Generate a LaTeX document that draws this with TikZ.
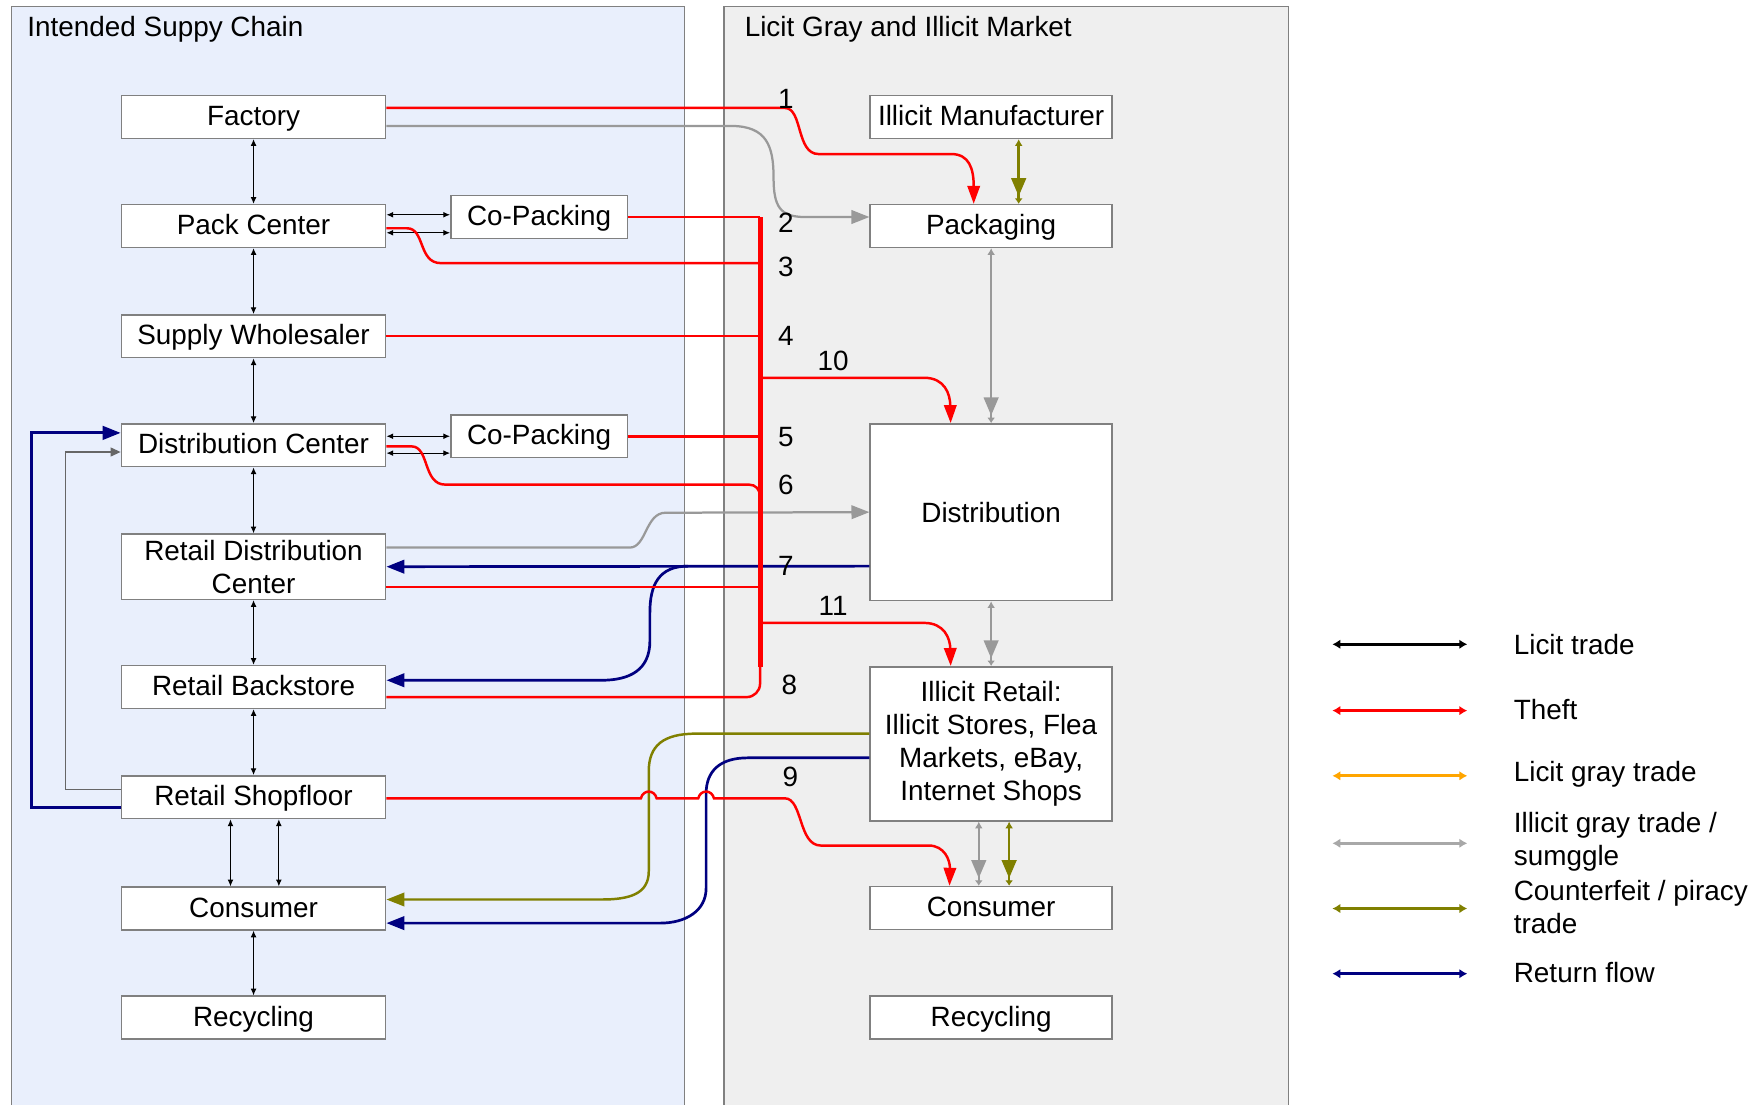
\documentclass[tikz,border=0pt]{standalone}
\usepackage{fontspec}
\setmainfont{Liberation Sans}
\usetikzlibrary{arrows.meta,calc}
\definecolor{panelblue}{HTML}{E9EFFC}
\definecolor{panelgray}{HTML}{EFEFEF}
\definecolor{frame}{HTML}{808080}
\definecolor{theftred}{HTML}{FF0000}
\definecolor{retnavy}{HTML}{000080}
\definecolor{fakeolive}{HTML}{808000}
\definecolor{smuggray}{HTML}{999999}
\definecolor{grayorange}{HTML}{FFA500}
\begin{document}
\begin{tikzpicture}[x=0.5pt,y=-0.5pt,
  font=\fontsize{12.4}{14.6}\selectfont,
  box/.style={draw=frame, line width=0.7pt, fill=white, inner sep=0pt, align=center},
  onebox/.style={box, text height=9pt, text depth=1.4pt},
  lbox/.style={onebox, minimum width=117.5pt, minimum height=19pt},
  rbox/.style={onebox, minimum width=107.5pt, minimum height=19pt},
  cbox/.style={onebox, minimum width=78.5pt, minimum height=19pt},
  tallbox/.style={box, minimum width=107.5pt},
  panel/.style={draw=frame, line width=0.6pt},
  licit/.style={draw=black, line width=0.45pt,
    {Latex[length=3pt,width=2.6pt]}-{Latex[length=3pt,width=2.6pt]}},
  theft/.style={draw=theftred, line width=1.1pt},
  bus/.style={draw=theftred, line width=2.2pt},
  smug/.style={draw=smuggray, line width=1pt},
  ret/.style={draw=retnavy, line width=1.2pt},
  fake/.style={draw=fakeolive, line width=1.1pt},
  bigtip/.style={-{Triangle[length=8pt,width=6pt]}},
  redtip/.style={-{Triangle[length=8pt,width=5.5pt]}},
  twotip/.style={{Latex[length=3pt,width=3.5pt]}-{Triangle[length=8pt,width=6.5pt,sep=1pt] Latex[length=2.4pt,width=3.5pt]}},
  num/.style={inner sep=0pt},
  legline/.style={line width=1.4pt, {Latex[length=3.5pt,width=4.2pt]}-{Latex[length=3.5pt,width=4.2pt]}},
  legtext/.style={anchor=west, inner sep=0pt, align=left}
]
\useasboundingbox (0,0) rectangle (1568,982);

% two market panels
\path[panel, fill=panelblue] (10,1000) -- (10,6) -- (609,6) -- (609,1000);
\path[panel, fill=panelgray] (644,1000) -- (644,6) -- (1146,6) -- (1146,1000);
\node[anchor=west, inner sep=0pt] (t1) at (24,26) {Intended Suppy Chain};
\node[anchor=west, inner sep=0pt] (t2) at (662,26) {Licit Gray and Illicit Market};

% intended supply chain
\node[lbox] (fac)  at (225.5,104) {Factory};
\node[lbox] (pack) at (225.5,201) {Pack Center};
\node[lbox] (sw)   at (225.5,299) {Supply Wholesaler};
\node[lbox] (dc)   at (225.5,396) {Distribution Center};
\node[box, minimum width=117.5pt, minimum height=29pt] (rdc) at (225.5,504) {Retail Distribution\\Center};
\node[lbox] (rb)   at (225.5,611) {Retail Backstore};
\node[lbox] (rs)   at (225.5,709) {Retail Shopfloor};
\node[lbox] (con)  at (225.5,808) {Consumer};
\node[lbox] (rec)  at (225.5,905) {Recycling};
\node[cbox] (cp1)  at (479.5,193) {Co-Packing};
\node[cbox] (cp2)  at (479.5,388) {Co-Packing};

% licit gray and illicit market
\node[rbox] (im)   at (881.5,104) {Illicit Manufacturer};
\node[rbox] (pkg)  at (881.5,201) {Packaging};
\node[tallbox, minimum height=78.5pt] (dist) at (881.5,455.5) {Distribution};
\node[tallbox, minimum height=68.5pt] (ir) at (881.5,661.5) {Illicit Retail:\\Illicit Stores, Flea\\Markets, eBay,\\Internet Shops};
\node[rbox] (icon) at (881.5,807.5) {Consumer};
\node[rbox] (irec) at (881.5,905) {Recycling};

% licit trade
\draw[licit] (fac.south) -- (pack.north);
\draw[licit] (pack.south) -- (sw.north);
\draw[licit] (sw.south) -- (dc.north);
\draw[licit] (dc.south) -- (rdc.north);
\draw[licit] (rdc.south) -- (rb.north);
\draw[licit] (rb.south) -- (rs.north);
\draw[licit] ($(rs.south)+(-20.5,0)$) -- ($(con.north)+(-20.5,0)$);
\draw[licit] ($(rs.south)+(22.5,0)$) -- ($(con.north)+(22.5,0)$);
\draw[licit] (con.south) -- (rec.north);
\draw[licit] ($(pack.east)+(0,-10)$) -- ($(cp1.west)+(0,-2)$);
\draw[licit] ($(pack.east)+(0,6)$) -- ($(cp1.west)+(0,14)$);
\draw[licit] ($(dc.east)+(0,-8)$) -- ($(cp2.west)+(0,0)$);
\draw[licit] ($(dc.east)+(0,7)$) -- ($(cp2.west)+(0,15)$);

% returns to the distribution center
\draw[ret, line width=1.3pt, bigtip] ($(rs.west)+(0,9)$) -| ($(dc.west)+(-79,-11)$) -- ($(dc.west)+(0,-11)$);
\draw[draw=frame!80!black, line width=0.6pt, -{Triangle[length=4.5pt,width=4pt]}]
  ($(rs.west)+(0,-7)$) -| ($(dc.west)+(-49,6)$) -- ($(dc.west)+(0,6)$);

% illicit gray trade / smuggling
\draw[smug, bigtip] ($(fac.east)+(0,8)$) -- (650,112)
  .. controls (682,112) and (688,130) .. (688,158)
  .. controls (688,184) and (694,193) .. (716,193) -- ($(pkg.west)+(0,-8)$);
\draw[smug, bigtip] ($(rdc.east)+(0,-17)$) -- (560,487)
  .. controls (575,487) and (574,456) .. (592,456) -- (dist.west);
\draw[smug, twotip] (pkg.south) -- (dist.north);
\draw[smug, twotip] (dist.south) -- (ir.north);
\draw[smug, twotip] ($(ir.south)+(-11,0)$) -- ($(icon.north)+(-11,0)$);

% counterfeit / piracy trade
\draw[fake, twotip] ($(im.south)+(24.5,0)$) -- ($(pkg.north)+(24.5,0)$);
\draw[fake, twotip] ($(ir.south)+(16,0)$) -- ($(icon.north)+(16,0)$);
\draw[fake, bigtip] ($(ir.west)+(0,-9)$) -- (619,652.5)
  .. controls (590,652.5) and (577,663) .. (577,686) -- (577,775)
  .. controls (577,795) and (560,800) .. (535,800) -- ($(con.east)+(0,-8)$);

% return flow
\draw[ret, bigtip] ($(dist.west)+(0,48)$) -- ($(rdc.east)+(0,0)$);
\draw[ret, bigtip] (612,503.5) .. controls (586,503.5) and (578,520) .. (578,545) -- (578,570)
  .. controls (578,596) and (560,605) .. (535,605) -- ($(rb.east)+(0,-6)$);
\draw[ret, bigtip] ($(ir.west)+(0,12.5)$) -- (665,674)
  .. controls (640,674) and (628,686) .. (628,706) -- (628,790)
  .. controls (628,810) and (610,821) .. (587,821) -- ($(con.east)+(0,13)$);

% theft
\coordinate (bustop) at (676,193);
\coordinate (busbot) at (676,593);
\draw[theft, redtip] ($(fac.east)+(0,-8)$) -- (698,96)
  .. controls (714,96) and (708,137) .. (728,137) -- (846,137)
  .. controls (862,137) and (866,150) .. ($(pkg.north)+(-15.5,0)$);
\draw[theft] (cp1.east) -- (bustop);
\draw[theft] ($(pack.east)+(0,2)$) -- (362,203)
  .. controls (378,203) and (372,234) .. (392,234) -- (bustop |- 0,234);
\draw[theft] (sw.east) -- (sw.east -| bustop);
\draw[theft] (cp2.east) -- (cp2.east -| bustop);
\draw[theft] ($(dc.east)+(0,1)$) -- (366,397)
  .. controls (382,397) and (376,431) .. (396,431) -- (666,431)
  .. controls (672,431) and (676,435) .. (676,442);
\draw[theft] ($(rdc.east)+(0,18)$) -- ($(rdc.east -| bustop)+(0,18)$);
\draw[theft, rounded corners=6pt] ($(rb.east)+(0,9)$) -| (busbot);
\draw[bus] (bustop) -- (busbot);
\draw[theft, redtip] (676,336) -- (822,336)
  .. controls (840,336) and (845,350) .. ($(dist.north)+(-36,0)$);
\draw[theft, redtip] (676,554) -- (822,554)
  .. controls (840,554) and (845,568) .. ($(ir.north)+(-36,0)$);
\draw[theft, redtip] ($(rs.east)+(0,1)$) -- (570,710)
  .. controls (572,702) and (582,702) .. (584,710) -- (621,710)
  .. controls (623,702) and (633,702) .. (635,710) -- (698,710)
  .. controls (714,710) and (710,752) .. (730,752) -- (826,752)
  .. controls (840,752) and (845,765) .. ($(icon.north)+(-37,0)$);

% flow numbers
\node[num] (n1)  at (699,88)  {1};
\node[num] (n2)  at (699,198) {2};
\node[num] (n3)  at (699,237) {3};
\node[num] (n4)  at (699,299) {4};
\node[num] (n10) at (741,321) {10};
\node[num] (n5)  at (699,389) {5};
\node[num] (n6)  at (699,431) {6};
\node[num] (n7)  at (699,503) {7};
\node[num] (n11) at (741,539) {11};
\node[num] (n8)  at (702,609) {8};
\node[num] (n9)  at (703,691) {9};

% legend
\node[legtext] (l1) at (1346,573) {Licit trade};
\node[legtext] (l2) at (1346,631) {Theft};
\node[legtext] (l3) at (1346,689) {Licit gray trade};
\node[legtext] (l4) at (1346,748.5) {Illicit gray trade /\\sumggle};
\node[legtext] (l5) at (1346,806.5) {Counterfeit / piracy\\trade};
\node[legtext] (l6) at (1346,865) {Return flow};
\draw[legline, black]      ($(l1.west)+(-161,0)$) -- ($(l1.west)+(-41,0)$);
\draw[legline, theftred]   ($(l2.west)+(-161,1)$) -- ($(l2.west)+(-41,1)$);
\draw[legline, grayorange] ($(l3.west)+(-161,1)$) -- ($(l3.west)+(-41,1)$);
\draw[legline, smuggray!85] ($(l4.west)+(-161,1.5)$) -- ($(l4.west)+(-41,1.5)$);
\draw[legline, fakeolive]  ($(l5.west)+(-161,1.5)$) -- ($(l5.west)+(-41,1.5)$);
\draw[legline, retnavy]    ($(l6.west)+(-161,1)$) -- ($(l6.west)+(-41,1)$);
\end{tikzpicture}
\end{document}
